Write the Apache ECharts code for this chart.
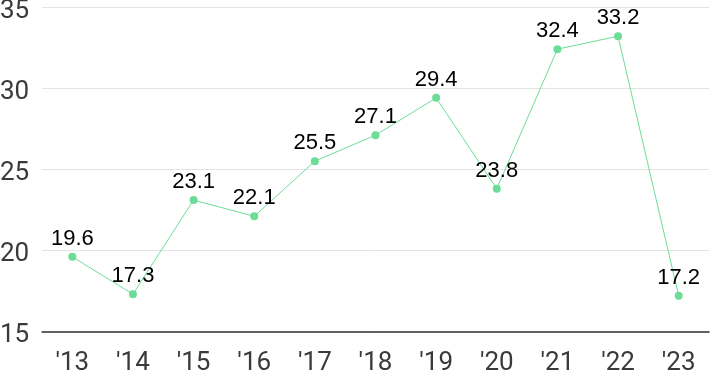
<!DOCTYPE html>
<html><head><meta charset="utf-8">
<script src="https://cdn.jsdelivr.net/npm/echarts@6/dist/echarts.min.js"></script>
<style>html,body{margin:0;padding:0;background:#fff}#c{width:710px;height:371px}</style>
</head><body><div id="c"></div>
<script>
const categories = ["'13","'14","'15","'16","'17","'18","'19","'20","'21","'22","'23"];
const values = [19.6, 17.3, 23.1, 22.1, 25.5, 27.1, 29.4, 23.8, 32.4, 33.2, 17.2];
const yTicks = [15, 20, 25, 30, 35];

const chart = echarts.init(document.getElementById('c'));
chart.setOption({
  animation: false,
  grid: {left: 42, right: 1, top: 7, bottom: 39.5, containLabel: false, outerBoundsMode: 'none'},
  xAxis: {
    type: 'category', data: categories, boundaryGap: true,
    axisLine: {lineStyle: {color: '#333', width: 1.5}},
    axisTick: {show: false},
    axisLabel: {color: '#3a3a3a', fontSize: 26, fontFamily: 'Roboto', margin: 19}
  },
  yAxis: {
    type: 'value', min: yTicks[0], max: yTicks[yTicks.length-1], interval: 5,
    axisLine: {show: false}, axisTick: {show: false},
    splitLine: {lineStyle: {color: '#e3e3e3', width: 1}},
    axisLabel: {color: '#3a3a3a', fontSize: 26, fontFamily: 'Roboto', align: 'left', margin: 42, verticalAlign: 'top', lineHeight: 8}
  },
  series: [{
    type: 'line', data: values,
    symbol: 'circle', symbolSize: 8,
    lineStyle: {color: '#6ddc96', width: 1},
    itemStyle: {color: '#6ddc96'},
    label: {show: true, position: 'top', distance: 3, color: '#000', fontSize: 22, fontFamily: 'Liberation Sans'}
  }]
});
</script></body></html>
